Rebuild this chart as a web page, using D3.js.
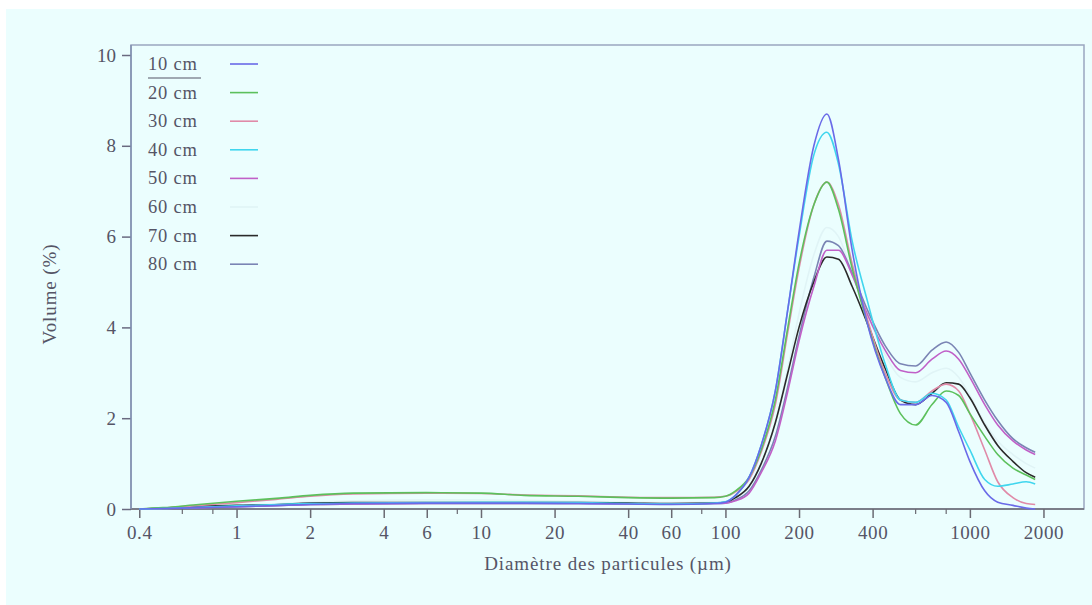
<!DOCTYPE html>
<html>
<head>
<meta charset="utf-8">
<script src="https://cdn.jsdelivr.net/npm/d3@7"></script>
<style>
  html, body { margin: 0; padding: 0; background: #ffffff; }
  #chart { width: 1092px; height: 605px; }
  text { font-family: "Liberation Serif", "DejaVu Serif", serif; fill: #555566; }
</style>
</head>
<body>
<div id="chart"></div>
<script>
// particle sizes (µm) shared by every depth
const sizes = [0.4, 0.5, 0.7, 1, 1.5, 2, 3, 6, 10, 15, 25, 40, 60, 90, 100, 110, 125, 140, 160, 180,
               200, 230, 260, 290, 330, 380, 450, 520, 600, 700, 800, 900, 1000, 1150, 1300, 1500, 1700, 1850];

// volume (%) per depth
const vol10 = [0, 0.01, 0.03, 0.05, 0.08, 0.1, 0.12, 0.13, 0.13, 0.13, 0.12, 0.11, 0.1, 0.12, 0.15, 0.3, 0.7, 1.4, 2.6, 4.4,
               6.1, 8.0, 8.7, 7.7, 5.7, 4.1, 2.9, 2.3, 2.3, 2.5, 2.35, 1.7, 1.05, 0.4, 0.15, 0.08, 0.02, 0];
const vol20 = [0, 0.03, 0.1, 0.17, 0.24, 0.3, 0.35, 0.36, 0.35, 0.3, 0.28, 0.25, 0.24, 0.25, 0.28, 0.4, 0.7, 1.3, 2.4, 4.0,
               5.4, 6.7, 7.2, 6.6, 5.3, 4.1, 2.9, 2.1, 1.85, 2.3, 2.6, 2.5, 2.1, 1.6, 1.2, 0.9, 0.75, 0.65];
const vol30 = [0, 0.02, 0.08, 0.14, 0.22, 0.28, 0.33, 0.35, 0.34, 0.31, 0.29, 0.26, 0.25, 0.26, 0.28, 0.38, 0.65, 1.25, 2.3, 3.9,
               5.3, 6.7, 7.2, 6.7, 5.4, 4.2, 3.0, 2.4, 2.35, 2.6, 2.75, 2.6, 2.1, 1.3, 0.6, 0.25, 0.12, 0.1];
const vol40 = [0, 0.01, 0.04, 0.07, 0.1, 0.12, 0.13, 0.14, 0.15, 0.15, 0.14, 0.12, 0.11, 0.13, 0.16, 0.3, 0.7, 1.4, 2.6, 4.4,
               6.0, 7.8, 8.3, 7.6, 5.9, 4.6, 3.2, 2.4, 2.35, 2.55, 2.4, 1.8, 1.3, 0.65, 0.5, 0.55, 0.6, 0.55];
const vol50 = [0, 0.01, 0.03, 0.05, 0.08, 0.1, 0.11, 0.12, 0.12, 0.12, 0.12, 0.11, 0.11, 0.12, 0.13, 0.18, 0.35, 0.8, 1.5, 2.6,
               3.7, 4.9, 5.7, 5.7, 5.15, 4.3, 3.5, 3.05, 3.0, 3.3, 3.48, 3.3, 2.9, 2.3, 1.85, 1.5, 1.3, 1.2];
const vol60 = [0, 0.02, 0.05, 0.08, 0.12, 0.15, 0.18, 0.2, 0.2, 0.19, 0.17, 0.15, 0.14, 0.15, 0.17, 0.25, 0.5, 1.0, 1.9, 3.1,
               4.3, 5.6, 6.2, 6.0, 5.2, 4.3, 3.4, 2.9, 2.8, 3.0, 3.1, 2.9, 2.5, 1.9, 1.5, 1.2, 1.0, 0.9];
const vol70 = [0, 0.02, 0.06, 0.08, 0.1, 0.13, 0.14, 0.14, 0.14, 0.14, 0.14, 0.13, 0.12, 0.13, 0.15, 0.25, 0.5, 1.0, 1.9, 3.0,
               4.0, 5.0, 5.55, 5.5, 4.9, 4.1, 3.1, 2.4, 2.3, 2.55, 2.78, 2.75, 2.45, 1.85, 1.4, 1.05, 0.8, 0.7];
const vol80 = [0, 0.01, 0.03, 0.05, 0.08, 0.1, 0.11, 0.12, 0.12, 0.12, 0.12, 0.12, 0.11, 0.12, 0.13, 0.2, 0.4, 0.85, 1.6, 2.7,
               3.8, 5.1, 5.9, 5.8, 5.2, 4.4, 3.6, 3.2, 3.15, 3.5, 3.68, 3.45, 3.0, 2.4, 1.95, 1.55, 1.35, 1.25];

const depths = ["10 cm", "20 cm", "30 cm", "40 cm", "50 cm", "60 cm", "70 cm", "80 cm"];
const depthValues = [vol10, vol20, vol30, vol40, vol50, vol60, vol70, vol80];
const depthColors = ["#6a6ae8", "#5cc05c", "#e08aa8", "#40d6ee", "#c060c8", "#e0f4f6", "#2a2a2a", "#7a84b4"];

const xTicksMajor = [0.4, 1, 2, 4, 6, 10, 20, 40, 60, 100, 200, 400, 1000, 2000];
const xTicksMinor = [0.6, 0.8, 8, 80, 600, 800];
const yTicks = [0, 2, 4, 6, 8, 10];

class SizeChart {
    constructor(containerId) {
        this.containerId = containerId;
        this.initVis();
    }

    initVis() {
        const vis = this;
        vis.width = 1092;
        vis.height = 605;
        vis.margin = { top: 45, right: 8, bottom: 96, left: 131 };
        vis.innerWidth = vis.width - vis.margin.left - vis.margin.right;
        vis.innerHeight = vis.height - vis.margin.top - vis.margin.bottom;

        vis.svg = d3.select("#" + vis.containerId)
            .append("svg")
            .attr("width", vis.width)
            .attr("height", vis.height);

        // light cyan panel
        vis.svg.append("rect")
            .attr("x", 6).attr("y", 9)
            .attr("width", vis.width - 6).attr("height", vis.height - 9)
            .attr("fill", "#ebfefe");

        vis.g = vis.svg.append("g")
            .attr("transform", `translate(${vis.margin.left},${vis.margin.top})`);

        vis.x = d3.scaleLog()
            .domain([0.37, 2930])
            .range([0, vis.innerWidth]);

        // 0..10 sits a little below the frame top
        vis.y = d3.scaleLinear()
            .domain([0, 10])
            .range([vis.innerHeight, 10]);

        this.render();
    }

    render() {
        const vis = this;

        // frame
        vis.g.append("rect")
            .attr("width", vis.innerWidth)
            .attr("height", vis.innerHeight)
            .attr("fill", "none")
            .attr("stroke", "#9aa6c0")
            .attr("stroke-width", 1.5);

        // x axis (major + minor ticks)
        const xAxisG = vis.g.append("g")
            .attr("transform", `translate(0,${vis.innerHeight})`);
        xAxisG.append("line")
            .attr("x2", vis.innerWidth)
            .attr("stroke", "#6a6a72").attr("stroke-width", 1.5);
        xAxisG.call(d3.axisBottom(vis.x).tickValues(xTicksMajor).tickSize(9).tickPadding(8)
                .tickFormat(d => String(d)))
            .call(g => g.select(".domain").remove())
            .call(g => g.selectAll(".tick line").attr("stroke", "#6a6a72").attr("stroke-width", 1.5))
            .call(g => g.selectAll(".tick text")
                .attr("font-size", 19)
                .attr("letter-spacing", 0.6)
                .attr("font-family", "Liberation Serif, serif")
                .attr("fill", "#555566"));
        xAxisG.selectAll(".minor")
            .data(xTicksMinor)
            .join("line")
            .attr("class", "minor")
            .attr("x1", d => vis.x(d)).attr("x2", d => vis.x(d))
            .attr("y1", 0).attr("y2", 5)
            .attr("stroke", "#6a6a72").attr("stroke-width", 1.2);

        // y axis
        const yAxisG = vis.g.append("g");
        yAxisG.call(d3.axisLeft(vis.y).tickValues(yTicks).tickSize(9).tickPadding(6))
            .call(g => g.select(".domain").remove())
            .call(g => g.selectAll(".tick line").attr("stroke", "#6a6a80").attr("stroke-width", 1.5))
            .call(g => g.selectAll(".tick text")
                .attr("font-size", 19)
                .attr("font-family", "Liberation Serif, serif")
                .attr("fill", "#555566"));
        yAxisG.append("line")
            .attr("y2", vis.innerHeight)
            .attr("stroke", "#8090b0").attr("stroke-width", 1.5);

        // curves
        const line = d3.line()
            .x(d => vis.x(d[0]))
            .y(d => vis.y(d[1]))
            .curve(d3.curveMonotoneX);

        const order = [5, 7, 6, 4, 2, 1, 3, 0];
        vis.g.selectAll(".curve")
            .data(order)
            .join("path")
            .attr("class", "curve")
            .attr("d", i => line(sizes.map((s, k) => [s, depthValues[i][k]])))
            .attr("fill", "none")
            .attr("stroke", i => depthColors[i])
            .attr("stroke-width", 1.6);

        // legend
        const leg = vis.g.append("g").attr("transform", "translate(17,19)");
        const rows = leg.selectAll(".row")
            .data(depths)
            .join("g")
            .attr("class", "row")
            .attr("transform", (d, i) => `translate(0,${i * 28.6})`);
        rows.append("text")
            .attr("x", 0).attr("y", 6)
            .attr("font-size", 18.5)
            .attr("letter-spacing", 0.8)
            .text(d => d);
        rows.append("line")
            .attr("x1", 82).attr("x2", 110)
            .attr("stroke", (d, i) => depthColors[i])
            .attr("stroke-width", 1.6);
        leg.append("line")
            .attr("x1", 0).attr("x2", 53)
            .attr("y1", 14).attr("y2", 14)
            .attr("stroke", "#555566").attr("stroke-width", 1);

        // axis labels
        vis.g.append("text")
            .attr("x", 477)
            .attr("y", vis.innerHeight + 61)
            .attr("text-anchor", "middle")
            .attr("font-size", 19)
            .attr("letter-spacing", 0.9)
            .text("Diamètre des particules (µm)");

        vis.g.append("text")
            .attr("transform", "rotate(-90)")
            .attr("x", -249)
            .attr("y", -75)
            .attr("text-anchor", "middle")
            .attr("font-size", 19)
            .attr("letter-spacing", 0.9)
            .text("Volume (%)");
    }
}

new SizeChart("chart");
</script>
</body>
</html>
